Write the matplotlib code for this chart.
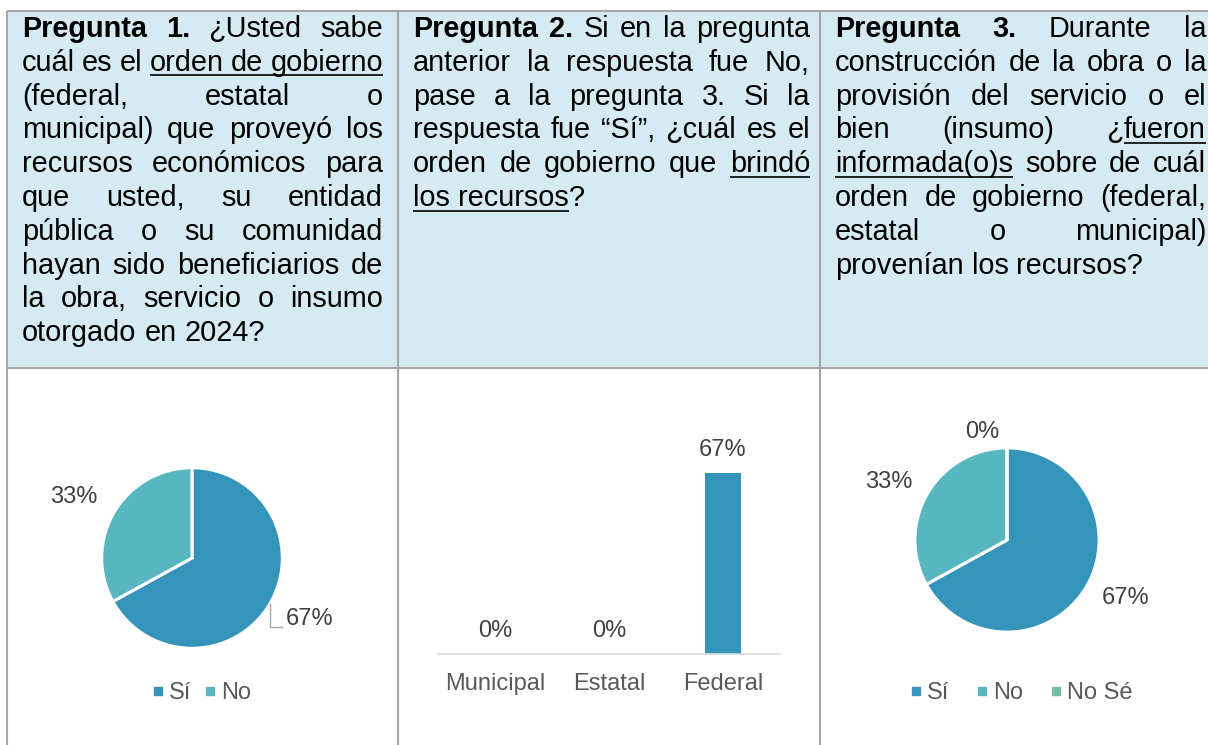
import matplotlib
matplotlib.use('Agg')
import numpy as np
import matplotlib.pyplot as plt
from matplotlib.lines import Line2D
from matplotlib.patches import Rectangle

W, H = 1208, 745
FONT = 'Liberation Sans'
FS = 20.8          # texto de las preguntas
FS_CHART = 17      # etiquetas de las gráficas

# Encabezados: *negrita*, _subrayado_ (una línea por renglón)
q1_lines = [
    "*Pregunta 1.* ¿Usted sabe",
    "cuál es el _orden de gobierno_",
    "(federal, estatal o",
    "municipal) que proveyó los",
    "recursos económicos para",
    "que usted, su entidad",
    "pública o su comunidad",
    "hayan sido beneficiarios de",
    "la obra, servicio o insumo",
    "otorgado en 2024?",
]
q2_lines = [
    "*Pregunta 2.* Si en la pregunta",
    "anterior la respuesta fue No,",
    "pase a la pregunta 3. Si la",
    "respuesta fue “Sí”, ¿cuál es el",
    "orden de gobierno que _brindó_",
    "_los recursos_?",
]
q3_lines = [
    "*Pregunta 3.* Durante la",
    "construcción de la obra o la",
    "provisión del servicio o el",
    "bien (insumo) ¿_fueron_",
    "_informada(o)s_ sobre de cuál",
    "orden de gobierno (federal,",
    "estatal o municipal)",
    "provenían los recursos?",
]

# Datos
p1_labels = ['Sí', 'No']
p1_values = [67, 33]
p2_categories = ['Municipal', 'Estatal', 'Federal']
p2_values = [0, 0, 67]
p3_labels = ['Sí', 'No', 'No Sé']
p3_values = [67, 33, 0]

colors = ['#3494BA', '#58B6C0', '#75BDA7']
grid_color = '#A6A6A6'
head_fill = '#D6EAF1'
label_color = '#404040'
legend_color = '#595959'

plt.rcParams['font.family'] = FONT

fig = plt.figure(figsize=(W / 100, H / 100), dpi=100)
ov = fig.add_axes([0, 0, 1, 1])
ov.set_autoscale_on(False)
ov.set_xlim(0, W)
ov.set_ylim(H, 0)
ov.axis('off')
renderer = fig.canvas.get_renderer()


def px_axes(x0, y0, x1, y1):
    return fig.add_axes([x0 / W, 1 - y1 / H, (x1 - x0) / W, (y1 - y0) / H])


# --- tabla ---
ov.add_patch(Rectangle((7, 11), W - 7, 368 - 11, facecolor=head_fill, edgecolor='none'))
for x in [7, 398, 820]:
    ov.plot([x, x], [11, H], color=grid_color, lw=1.5, solid_capstyle='butt')
for y in [11, 368]:
    ov.plot([7, W], [y, y], color=grid_color, lw=1.5, solid_capstyle='butt')


def text_w(s, bold):
    t = ov.text(0, 0, s, fontsize=FS, fontweight='bold' if bold else 'normal')
    w = t.get_window_extent(renderer).width
    t.remove()
    return w


SPACE = text_w('a a', False) - text_w('aa', False)


def parse(line):
    bold = under = False
    words = []
    for word in line.split(' '):
        pieces, buf = [], ''
        for ch in word:
            if ch in '*_':
                if buf:
                    pieces.append((buf, bold, under))
                    buf = ''
                if ch == '*':
                    bold = not bold
                else:
                    under = not under
            else:
                buf += ch
        if buf:
            pieces.append((buf, bold, under))
        words.append(pieces)
    return words


def paragraph(lines, x0, x1, y0, dy):
    # texto justificado, último renglón alineado a la izquierda
    for i, line in enumerate(lines):
        y = y0 + i * dy
        uy = y + 4.5
        words = parse(line)
        widths = [[text_w(s, b) for s, b, u in w] for w in words]
        total = sum(sum(ws) for ws in widths)
        if i == len(lines) - 1 or len(words) == 1:
            gap = SPACE
        else:
            gap = (x1 - x0 - total) / (len(words) - 1)
        x = x0
        prev_under = False
        for k, (w, ws) in enumerate(zip(words, widths)):
            if k > 0:
                if prev_under and w[0][2]:
                    ov.plot([x, x + gap], [uy, uy], color='black', lw=1.2, solid_capstyle='butt')
                x += gap
            for (s, b, u), pw in zip(w, ws):
                ov.text(x, y, s, fontsize=FS, fontweight='bold' if b else 'normal',
                        ha='left', va='baseline', color='black')
                if u:
                    ov.plot([x, x + pw], [uy, uy], color='black', lw=1.2, solid_capstyle='butt')
                x += pw
            prev_under = w[-1][2]


paragraph(q1_lines, 22, 383, 37, 33.8)
paragraph(q2_lines, 413, 810, 37, 33.8)
paragraph(q3_lines, 835, 1206, 37, 33.8)

L = 1.8
wprops = dict(edgecolor='white', linewidth=2.2)
tprops = dict(fontsize=FS_CHART, color=label_color)


def place_labels(wedges, autotexts, dist, shift):
    # etiquetas algo giradas respecto al centro de cada sector, como en Excel
    for wd, t in zip(wedges, autotexts):
        a = np.deg2rad((wd.theta1 + wd.theta2) / 2 + shift)
        t.set_position((dist * np.cos(a), dist * np.sin(a)))


# --- Pregunta 1: pastel ---
r1 = 90.3
cx1, cy1 = 192, 558
ax1 = px_axes(cx1 - r1 * L, cy1 - r1 * L, cx1 + r1 * L, cy1 + r1 * L)
wedges1, _, auto1 = ax1.pie(p1_values, colors=colors[:2], startangle=90, counterclock=False,
                            autopct='%.0f%%', pctdistance=1.47,
                            wedgeprops=wprops, textprops=tprops)
ax1.set_xlim(-L, L)
ax1.set_ylim(-L, L)
place_labels(wedges1, auto1, dist=1.47, shift=3.3)

# línea guía de la etiqueta 67%
w0 = wedges1[0]
mid = np.deg2rad((w0.theta1 + w0.theta2) / 2)
lx, ly = auto1[0].get_position()
ex, ey = np.cos(mid), np.sin(mid)
ax1.plot([ex, ex, lx - 0.31], [ey, ly - 0.09, ly - 0.09], color='#A6A6A6', lw=1,
         clip_on=False, solid_joinstyle='miter')

h1 = [Line2D([], [], marker='s', ls='none', color=c, markersize=6) for c in colors[:2]]
ax1.legend(h1, p1_labels, loc='center', bbox_to_anchor=(202, 693), bbox_transform=ov.transData,
           frameon=False, fontsize=FS_CHART, labelcolor=legend_color, ncol=2,
           handlelength=0.47, handletextpad=0.23, columnspacing=0.55,
           borderpad=0, borderaxespad=0)

# --- Pregunta 2: barras ---
axb = px_axes(438, 438, 780, 654)
xpos = np.arange(len(p2_categories))
bars = axb.bar(xpos, p2_values, width=0.32, color=colors[0])
axb.set_xlim(-0.5, len(p2_categories) - 0.5)
axb.set_ylim(0, 80)
axb.bar_label(bars, fmt='{:.0f}%', padding=8.5, fontsize=FS_CHART, color=label_color)
axb.set_xticks(xpos, p2_categories)
axb.tick_params(axis='x', length=0, pad=14, labelsize=FS_CHART, labelcolor=legend_color)
axb.set_yticks([])
for s in ['top', 'left', 'right']:
    axb.spines[s].set_visible(False)
axb.spines['bottom'].set_color('#D9D9D9')
axb.spines['bottom'].set_linewidth(1.2)
axb.patch.set_visible(False)

# --- Pregunta 3: pastel ---
r3 = 92.1
cx3, cy3 = 1007, 540
ax3 = px_axes(cx3 - r3 * L, cy3 - r3 * L, cx3 + r3 * L, cy3 + r3 * L)
wedges3, _, auto3 = ax3.pie(p3_values, colors=colors, startangle=90, counterclock=False,
                            autopct='%.0f%%', pctdistance=1.47,
                            wedgeprops=wprops, textprops=tprops)
ax3.set_xlim(-L, L)
ax3.set_ylim(-L, L)
place_labels(wedges3[:2], auto3[:2], dist=1.43, shift=4.6)
a0 = np.deg2rad(103)
auto3[2].set_position((1.2 * np.cos(a0), 1.2 * np.sin(a0)))

h3 = [Line2D([], [], marker='s', ls='none', color=c, markersize=6) for c in colors]
ax3.legend(h3, p3_labels, loc='center', bbox_to_anchor=(1021.5, 693), bbox_transform=ov.transData,
           frameon=False, fontsize=FS_CHART, labelcolor=legend_color, ncol=3,
           handlelength=0.47, handletextpad=0.23, columnspacing=1.17,
           borderpad=0, borderaxespad=0)

fig.savefig('out.png', dpi=100)
